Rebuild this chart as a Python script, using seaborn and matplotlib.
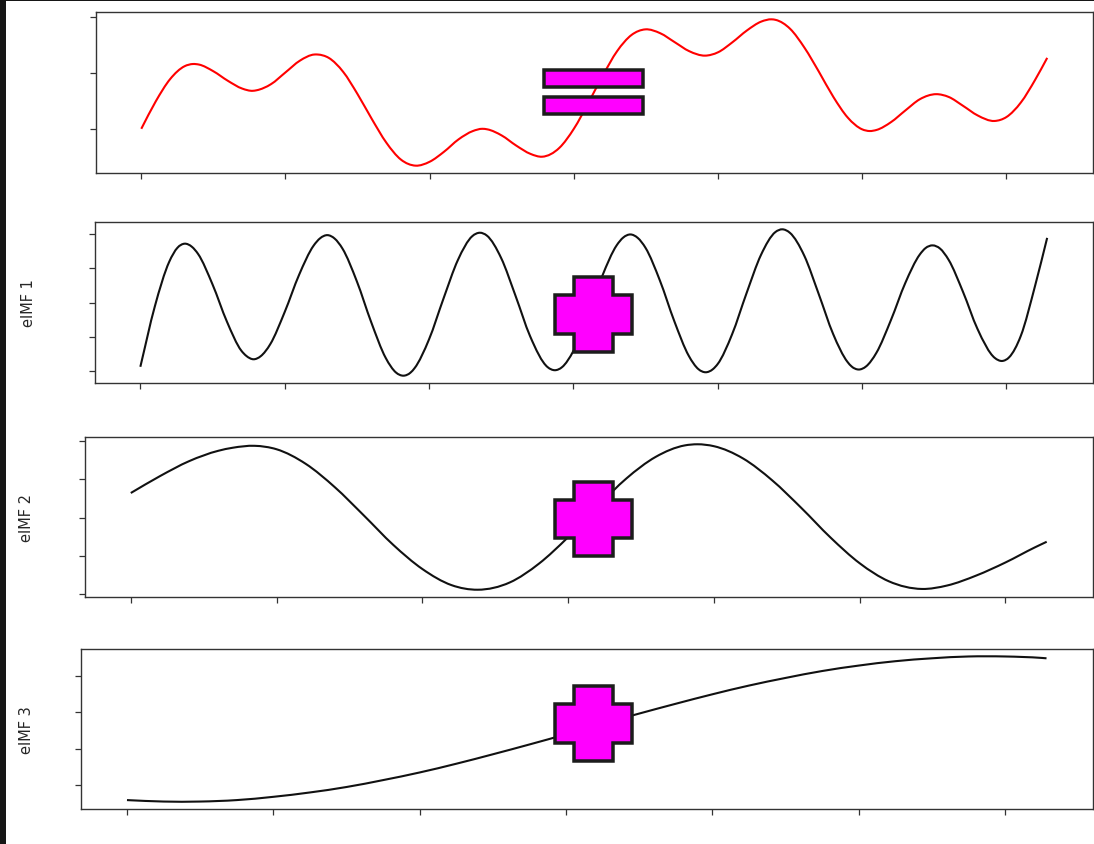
import matplotlib
matplotlib.use("Agg")
import matplotlib.pyplot as plt
from matplotlib.ticker import MultipleLocator, NullFormatter
from matplotlib.patches import Polygon, Rectangle, PathPatch
from matplotlib.path import Path
import pandas as pd
import seaborn as sns

# ---- data (x in radians, values in tick units of each panel) ----
signal_x = [0.0, 0.1, 0.2, 0.3, 0.358, 0.4, 0.5, 0.6, 0.7, 0.773, 0.8, 0.9, 1.0, 1.1, 1.2,
            1.223, 1.3, 1.4, 1.5, 1.6, 1.7, 1.8, 1.903, 2.0, 2.1, 2.2, 2.3, 2.365, 2.4, 2.5,
            2.6, 2.7, 2.78, 2.9, 3.0, 3.1, 3.2, 3.3, 3.4, 3.495, 3.6, 3.7, 3.8, 3.91, 4.0,
            4.1, 4.2, 4.3, 4.372, 4.4, 4.5, 4.6, 4.7, 4.8, 4.9, 5.0, 5.052, 5.1, 5.2, 5.3,
            5.4, 5.513, 5.6, 5.7, 5.8, 5.917, 6.0, 6.1, 6.2, 6.283]
signal_y = [0.00, 0.49, 0.89, 1.12, 1.16, 1.15, 1.03, 0.86, 0.72, 0.68, 0.69, 0.80, 1.01, 1.22, 1.33,
            1.33, 1.27, 1.02, 0.62, 0.17, -0.25, -0.55, -0.66, -0.59, -0.41, -0.19, -0.04, 0.00, -0.01, -0.12,
            -0.30, -0.45, -0.50, -0.34, 0.00, 0.46, 0.95, 1.39, 1.68, 1.78, 1.71, 1.55, 1.39, 1.31, 1.37,
            1.55, 1.76, 1.92, 1.96, 1.95, 1.79, 1.45, 1.02, 0.57, 0.20, -0.01, -0.04, -0.02, 0.12, 0.33,
            0.53, 0.62, 0.57, 0.41, 0.24, 0.14, 0.21, 0.47, 0.88, 1.27]

imf1_x = [0.0, 0.1, 0.2, 0.257, 0.307, 0.357, 0.4, 0.5, 0.6, 0.7, 0.734, 0.784, 0.834, 0.9, 1.0,
          1.1, 1.2, 1.246, 1.296, 1.346, 1.4, 1.5, 1.6, 1.7, 1.772, 1.822, 1.872, 1.9, 2.0, 2.1,
          2.2, 2.3, 2.353, 2.4, 2.5, 2.6, 2.7, 2.822, 2.872, 2.922, 3.0, 3.1, 3.2, 3.3, 3.346,
          3.396, 3.446, 3.5, 3.6, 3.7, 3.8, 3.867, 3.917, 3.967, 4.0, 4.1, 4.2, 4.3, 4.4, 4.448,
          4.5, 4.6, 4.7, 4.8, 4.9, 4.928, 4.978, 5.028, 5.1, 5.2, 5.3, 5.4, 5.44, 5.49, 5.54,
          5.6, 5.7, 5.8, 5.92, 5.97, 6.02, 6.1, 6.2, 6.283]
imf1_y = [-1.88, -0.12, 1.19, 1.60, 1.72, 1.63, 1.42, 0.53, -0.56, -1.41, -1.56, -1.66, -1.57, -1.22, -0.28,
          0.81, 1.66, 1.88, 1.97, 1.87, 1.58, 0.62, -0.58, -1.62, -2.05, -2.14, -2.05, -1.92, -1.08, 0.11,
          1.24, 1.94, 2.04, 1.96, 1.30, 0.19, -0.98, -1.89, -1.98, -1.89, -1.42, -0.40, 0.77, 1.67, 1.90,
          1.99, 1.89, 1.60, 0.64, -0.55, -1.56, -1.95, -2.04, -1.95, -1.80, -0.93, 0.27, 1.39, 2.06, 2.14,
          2.04, 1.37, 0.25, -0.92, -1.74, -1.87, -1.96, -1.87, -1.47, -0.52, 0.57, 1.40, 1.59, 1.67, 1.58,
          1.25, 0.31, -0.77, -1.62, -1.71, -1.60, -0.98, 0.50, 1.89]

imf2_x = [0.0, 0.2, 0.4, 0.6, 0.7, 0.849, 1.0, 1.2, 1.4, 1.6, 1.8, 2.0, 2.2, 2.38, 2.6, 2.8,
          3.0, 3.2, 3.4, 3.6, 3.8, 3.887, 4.0, 4.2, 4.4, 4.6, 4.8, 5.0, 5.2, 5.427, 5.6, 5.8,
          6.0, 6.2, 6.283]
imf2_y = [0.64, 1.08, 1.47, 1.74, 1.82, 1.87, 1.78, 1.40, 0.79, 0.05, -0.71, -1.34, -1.76, -1.88, -1.69, -1.20,
          -0.51, 0.28, 1.02, 1.58, 1.88, 1.91, 1.86, 1.54, 0.97, 0.25, -0.52, -1.19, -1.66, -1.86, -1.77, -1.51,
          -1.17, -0.78, -0.63]

imf3_x = [0.0, 0.25, 0.5, 0.75, 1.0, 1.25, 1.5, 1.75, 2.0, 2.25, 2.5, 2.75, 3.0, 3.25, 3.5,
          3.75, 4.0, 4.25, 4.5, 4.75, 5.0, 5.25, 5.5, 5.75, 6.0, 6.25, 6.283]
imf3_y = [-0.41, -0.45, -0.45, -0.41, -0.32, -0.20, -0.05, 0.14, 0.35, 0.59, 0.85, 1.12, 1.40, 1.69, 1.97,
          2.24, 2.50, 2.74, 2.95, 3.14, 3.29, 3.41, 3.49, 3.54, 3.54, 3.50, 3.49]

panel_labels = ["", "eIMF 1", "eIMF 2", "eIMF 3"]
line_colors = ["#ff0000", "#111111", "#111111", "#111111"]


def smooth_path(xs, ys):
    """Cubic Bezier path through the samples (Hermite slopes from neighbours)."""
    n = len(xs)
    slopes = []
    for i in range(n):
        if i == 0:
            slopes.append((ys[1] - ys[0]) / (xs[1] - xs[0]))
        elif i == n - 1:
            slopes.append((ys[-1] - ys[-2]) / (xs[-1] - xs[-2]))
        else:
            h0, h1 = xs[i] - xs[i - 1], xs[i + 1] - xs[i]
            d0, d1 = (ys[i] - ys[i - 1]) / h0, (ys[i + 1] - ys[i]) / h1
            slopes.append((d0 * h1 + d1 * h0) / (h0 + h1))
    verts, codes = [(xs[0], ys[0])], [Path.MOVETO]
    for i in range(n - 1):
        h = xs[i + 1] - xs[i]
        verts += [(xs[i] + h / 3, ys[i] + slopes[i] * h / 3),
                  (xs[i + 1] - h / 3, ys[i + 1] - slopes[i + 1] * h / 3),
                  (xs[i + 1], ys[i + 1])]
        codes += [Path.CURVE4] * 3
    return Path(verts, codes)


# ---- figure ----
W, H = 1094, 845
sns.set_theme(style="ticks")
plt.rcParams.update({
    "font.family": ["DejaVu Sans"],
    "axes.edgecolor": "#333333",
    "axes.linewidth": 1.0,
    "xtick.major.size": 4.3,
    "ytick.major.size": 4.3,
    "xtick.major.width": 0.9,
    "ytick.major.width": 0.9,
    "xtick.color": "#333333",
    "ytick.color": "#333333",
})

fig = plt.figure(figsize=(W / 100, H / 100), dpi=100)
fig.patch.set_facecolor("white")

# pixel boxes of the four panels: (left, right, top, bottom)
boxes = [(96, 1092.5, 13, 174), (95, 1092.5, 223, 384),
         (85, 1092.5, 438, 598), (81, 1092.5, 650, 810)]

series = [
    pd.DataFrame({"t": signal_x, "v": signal_y}),
    pd.DataFrame({"t": imf1_x, "v": imf1_y}),
    pd.DataFrame({"t": imf2_x, "v": imf2_y}),
    pd.DataFrame({"t": imf3_x, "v": imf3_y}),
]

label_centre_px = [0, 27, 25, 25]
for i, (df, (l, r, t, b)) in enumerate(zip(series, boxes)):
    ax = fig.add_axes([l / W, 1 - b / H, (r - l) / W, (b - t) / H])
    sns.lineplot(data=df, x="t", y="v", ax=ax, color=line_colors[i],
                 linewidth=1.5, estimator=None, sort=False)
    # redraw the seaborn line as a smooth curve through the same samples
    line = ax.lines[-1]
    xs = list(line.get_xdata())
    ys = list(line.get_ydata())
    line.remove()
    ax.add_patch(PathPatch(smooth_path(xs, ys), fill=False,
                           edgecolor=line_colors[i], linewidth=1.5,
                           capstyle="butt", joinstyle="round"))
    ax.autoscale_view()
    ax.xaxis.set_major_locator(MultipleLocator(1))
    ax.yaxis.set_major_locator(MultipleLocator(1))
    ax.xaxis.set_major_formatter(NullFormatter())
    ax.yaxis.set_major_formatter(NullFormatter())
    ax.set_xlabel("")
    ax.set_ylabel(panel_labels[i], fontsize=10.5, color="#262626")
    if panel_labels[i]:
        anchor_px = label_centre_px[i] + 8.8
        ax.yaxis.set_label_coords((anchor_px - l) / (r - l), 0.5)
    for s in ax.spines.values():
        s.set_visible(True)

# ---- overlay with the operator symbols ----
ov = fig.add_axes([0, 0, 1, 1], zorder=10)
ov.set_xlim(0, W)
ov.set_ylim(H, 0)
ov.axis("off")

lw_px = 3.5
inset = lw_px / 2
sym_style = dict(facecolor="#ff00ff", edgecolor="#1c1c1c", linewidth=lw_px * 0.72,
                 joinstyle="miter")


def plus(cx, cy, hw=40.0, hh=39.0, arm=21.0):
    w, h, a = hw - inset, hh - inset, arm - inset
    pts = [(cx - a, cy - h), (cx + a, cy - h), (cx + a, cy - a), (cx + w, cy - a),
           (cx + w, cy + a), (cx + a, cy + a), (cx + a, cy + h), (cx - a, cy + h),
           (cx - a, cy + a), (cx - w, cy + a), (cx - w, cy - a), (cx - a, cy - a)]
    return Polygon(pts, closed=True, **sym_style)


def bar(x0, x1, y0, y1):
    return Polygon([(x0 + inset, y0 + inset), (x1 - inset, y0 + inset),
                    (x1 - inset, y1 - inset), (x0 + inset, y1 - inset)],
                   closed=True, **sym_style)


ov.add_patch(bar(542.5, 645, 69.5, 89.5))
ov.add_patch(bar(542.5, 645, 96, 116.5))
for cy in (315.5, 520, 724.5):
    ov.add_patch(plus(593.5, cy))

# dark frame edge on the left and top
ov.add_patch(Rectangle((0, 0), 6, H, facecolor="#161616", edgecolor="none"))
ov.add_patch(Rectangle((0, 0), W, 1.5, facecolor="#161616", edgecolor="none"))

fig.savefig("out.png", dpi=100)
